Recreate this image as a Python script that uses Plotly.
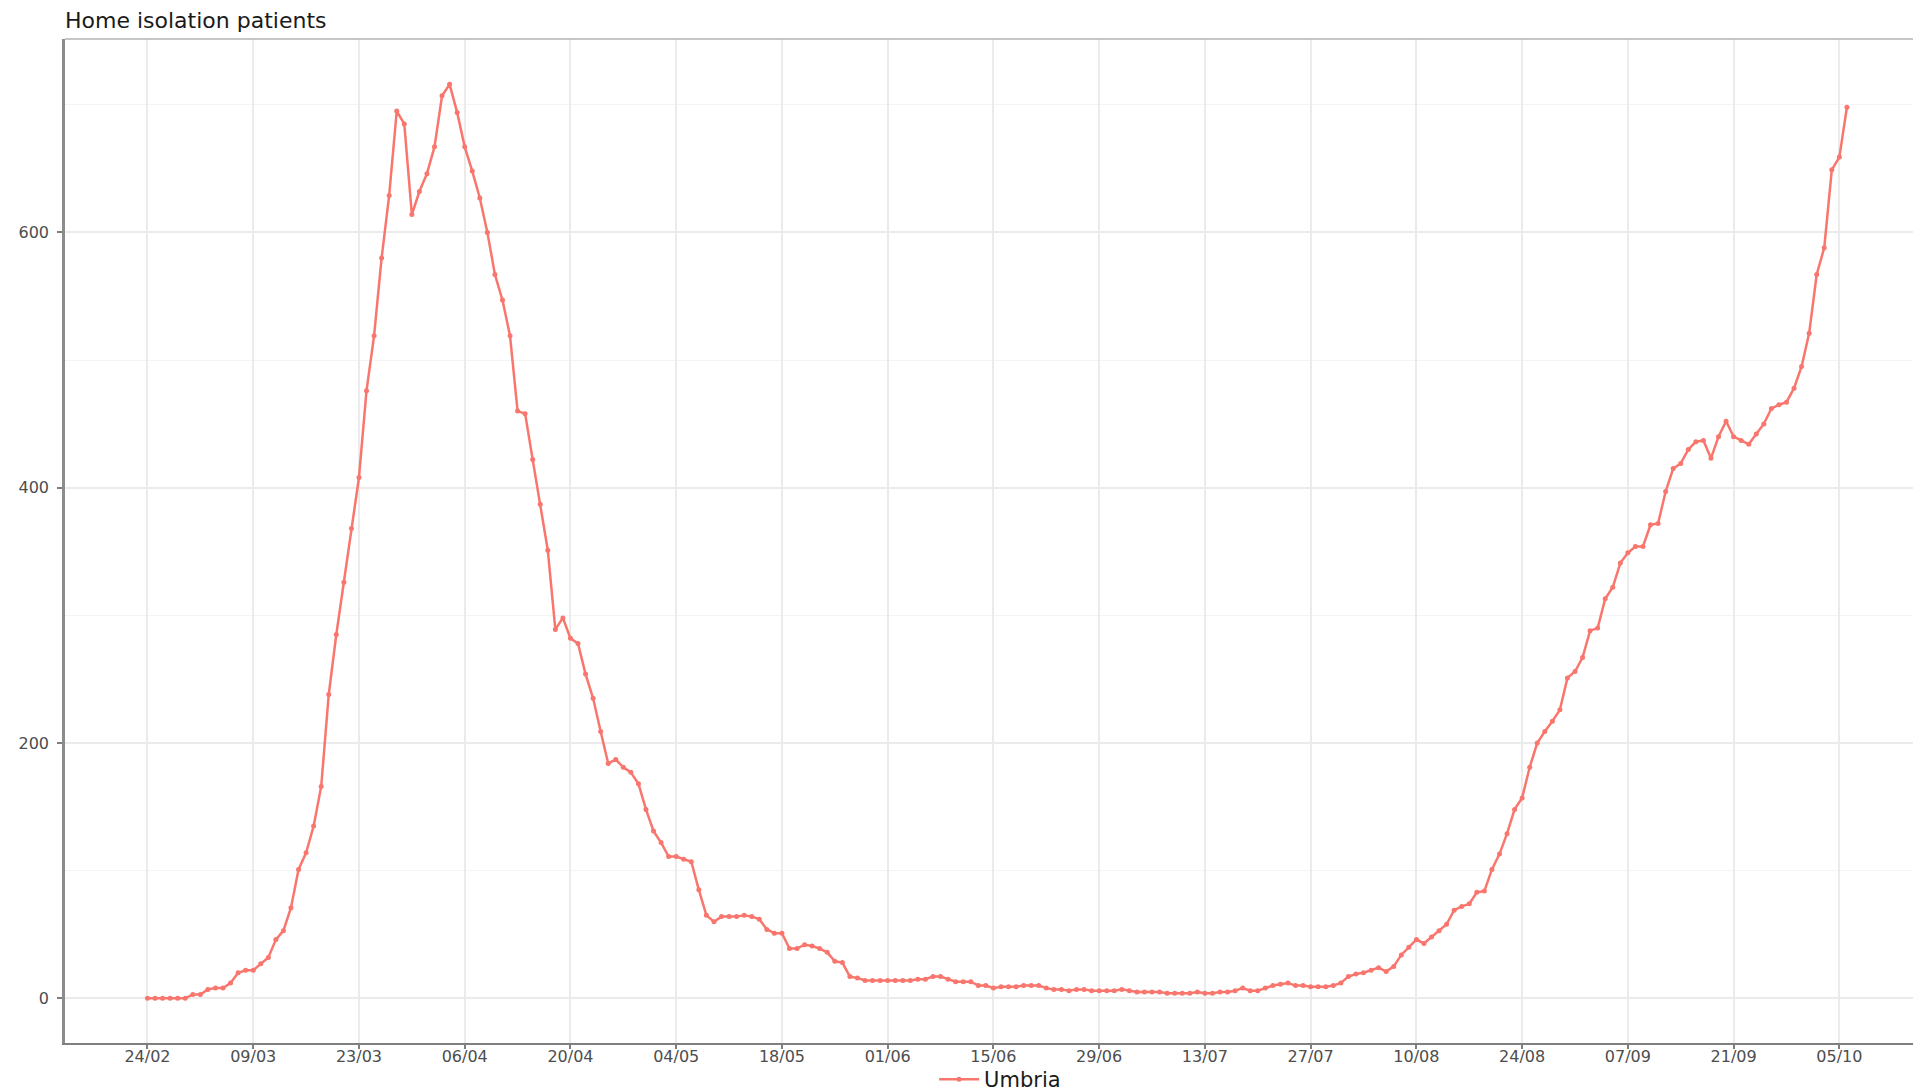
import pandas as pd
import plotly.graph_objects as go

# ---- data ----
start_date = "2020-02-24"
region_name = "Umbria"
chart_title = "Home isolation patients"
home_isolation = [
    0, 0, 0, 0, 0, 0, 3, 3, 7, 8, 8, 12, 20, 22, 22, 27, 32, 46, 53, 71,
    101, 114, 135, 166, 238, 285, 326, 368, 408, 476, 519, 580, 629, 695, 685, 614, 632, 646, 667, 707,
    716, 694, 667, 648, 627, 600, 567, 547, 519, 460, 458, 422, 387, 351, 289, 298, 282, 278, 254, 235,
    209, 184, 187, 181, 177, 168, 148, 131, 122, 111, 111, 109, 107, 85, 65, 60, 64, 64, 64, 65,
    64, 62, 54, 51, 51, 39, 39, 42, 41, 39, 36, 29, 28, 17, 16, 14, 14, 14, 14, 14,
    14, 14, 15, 15, 17, 17, 15, 13, 13, 13, 10, 10, 8, 9, 9, 9, 10, 10, 10, 8,
    7, 7, 6, 7, 7, 6, 6, 6, 6, 7, 6, 5, 5, 5, 5, 4, 4, 4, 4, 5,
    4, 4, 5, 5, 6, 8, 6, 6, 8, 10, 11, 12, 10, 10, 9, 9, 9, 10, 12, 17,
    19, 20, 22, 24, 21, 25, 34, 40, 46, 43, 48, 53, 58, 69, 72, 74, 83, 84, 101, 113,
    129, 148, 157, 181, 200, 209, 217, 226, 251, 256, 267, 288, 290, 313, 322, 341, 349, 354, 354, 371,
    372, 397, 415, 419, 430, 436, 437, 423, 440, 452, 440, 437, 434, 442, 450, 462, 465, 467, 478, 495,
    521, 567, 588, 649, 659, 698,
]
dates = pd.date_range(start=start_date, periods=len(home_isolation), freq="D")

y_tick_step = 200
x_tick_days = 14

# ---- figure ----
W, H = 1913, 1092
ml, mr, mt, mb = 65, 0, 39, 49

t0 = pd.Timestamp(start_date)
x_range = [t0 + pd.Timedelta(days=-10.92), t0 + pd.Timedelta(days=233.75)]

fig = go.Figure()
fig.add_trace(go.Scatter(
    x=dates, y=home_isolation, mode="lines+markers", name=region_name,
    line=dict(color="#F8766D", width=2.5),
    marker=dict(color="#F8766D", size=5, symbol="circle"),
))

axis_font = dict(family="DejaVu Sans", size=16, color="#4D4D4D")

fig.update_layout(
    width=W, height=H,
    margin=dict(l=ml, r=mr, t=mt, b=mb, autoexpand=False),
    paper_bgcolor="white", plot_bgcolor="white",
    title=dict(text=chart_title, x=ml / W, xanchor="left", xref="container",
               y=1 - 20 / H, yanchor="middle", yref="container",
               font=dict(family="DejaVu Sans", size=22, color="#1A1A1A")),
    showlegend=True,
    legend=dict(orientation="h", x=0.506, xanchor="center", y=-0.0365, yanchor="middle",
                font=dict(family="DejaVu Sans", size=21, color="#1A1A1A"),
                bgcolor="rgba(0,0,0,0)", itemwidth=40),
    xaxis=dict(
        type="date", range=x_range, tick0=start_date, dtick=x_tick_days * 86400000,
        tickformat="%d/%m", ticks="outside", ticklen=4, tickcolor="#7F7F7F", tickwidth=1.5,
        ticklabelstandoff=-6,
        showgrid=True, gridcolor="#EBEBEB", gridwidth=2,
        showline=True, linecolor="#7F7F7F", linewidth=1.5,
        zeroline=False, tickfont=axis_font,
    ),
    yaxis=dict(
        range=[-35, 751.5], dtick=y_tick_step, tick0=0,
        ticks="outside", ticklen=5, tickcolor="#7F7F7F", tickwidth=1.5,
        ticklabelstandoff=5,
        showgrid=True, gridcolor="#EBEBEB", gridwidth=1.5,
        minor=dict(dtick=y_tick_step / 2, showgrid=True, gridcolor="#F4F4F4", gridwidth=1),
        showline=True, linecolor="#8C8C8C", linewidth=2.5,
        zeroline=False, tickfont=axis_font,
    ),
    hovermode="closest",
)
fig.add_shape(type="line", xref="paper", yref="paper", x0=0, x1=1, y0=1, y1=1,
              line=dict(color="#B3B3B3", width=1.5), layer="above")

fig.write_html("out.html", config={"displayModeBar": False},
               post_script="document.body.style.margin='0';document.body.style.overflow='hidden';")
